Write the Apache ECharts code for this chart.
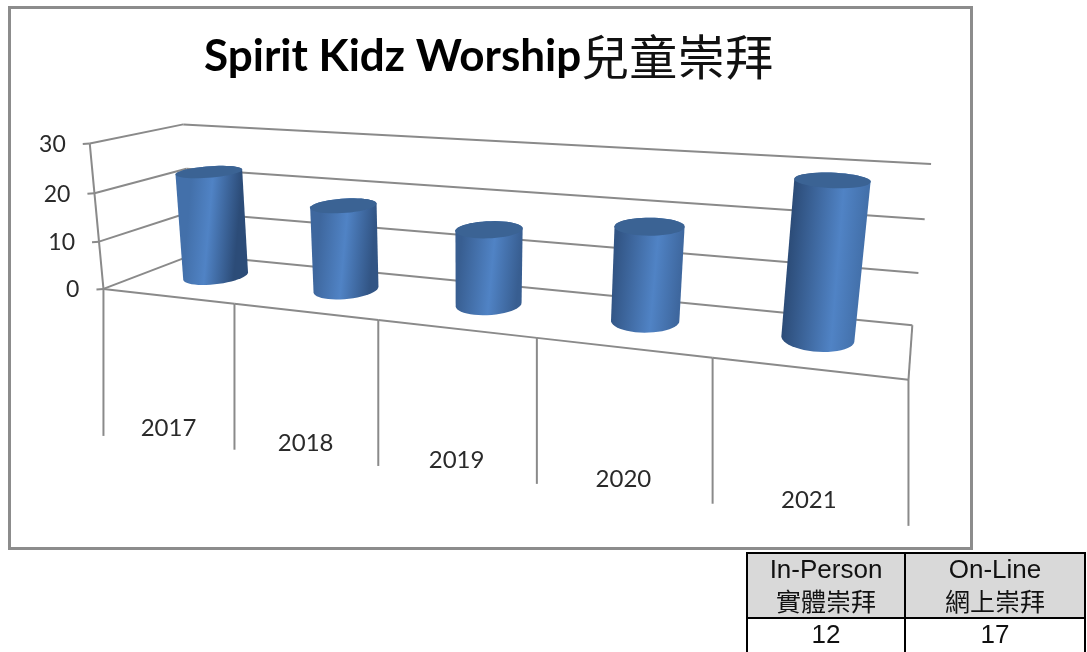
<!DOCTYPE html>
<html><head><meta charset="utf-8">
<style>html,body{margin:0;padding:0;background:#fff}#c{width:1087px;height:652px}</style>
<script src="https://cdn.jsdelivr.net/npm/echarts@6/dist/echarts.min.js"></script>
</head><body><div id="c"></div>
<script>
const titleLatin = 'Spirit Kidz Worship';
const titleCJK = '兒童崇拜';
const categories = ['2017','2018','2019','2020','2021'];
const values = [22.5, 17.5, 15, 18, 28.5];
const yTicks = [0, 10, 20, 30];
const tableHeadEn = ['In-Person','On-Line'];
const tableHeadZh = ['實體崇拜','網上崇拜'];
const tableValues = ['12','17'];

const LINE = '#8a8a8a';
const TXT = '#2a2a2a';
// Camera calibration: scene point [band, value, depth] -> picture position
const calib = [
 [0,0,0,105,288],[0,30,0,88,143],[0,0,1,187,255],[0,30,1,185,125],
 [0,0,0,105,288],[0,30,0,88,143],[0,30,1,185,125],
 [0,0,0,105,288],[0,30,0,88,143],[0,30,1,185,125],
 [5,0,1,913,324],[5,30,1,930,164],[5,0,0,908,380],[5,10,1,919,272],[5,20,1,925,219],
 [1,0,0,236,304],[2,0,0,378,322],[3,0,0,537,340],[4,0,0,712,358]
];
function solveCamera(pts){
  const n=11, A=Array.from({length:n},()=>new Array(n+1).fill(0));
  const add=(r,b)=>{for(let i=0;i<n;i++){for(let j=0;j<n;j++)A[i][j]+=r[i]*r[j];A[i][n]+=r[i]*b;}};
  pts.forEach(([X,Y,Z,x,y])=>{
    X/=5;Y/=30;x/=1000;y/=1000;
    add([X,Y,Z,1,0,0,0,0,-x*X,-x*Y,-x*Z],x);
    add([0,0,0,0,X,Y,Z,1,-y*X,-y*Y,-y*Z],y);
  });
  for(let i=0;i<n;i++){
    let m=i;for(let k=i+1;k<n;k++)if(Math.abs(A[k][i])>Math.abs(A[m][i]))m=k;
    [A[i],A[m]]=[A[m],A[i]];
    for(let k=0;k<n;k++){if(k===i)continue;const f=A[k][i]/A[i][i];for(let j=i;j<=n;j++)A[k][j]-=f*A[i][j];}
  }
  return A.map((r,i)=>r[n]/r[i]);
}
const cam=solveCamera(calib);
function project(b,v,z){
  const X=b/5,Y=v/30,Z=z,w=cam[8]*X+cam[9]*Y+cam[10]*Z+1;
  return [1000*(cam[0]*X+cam[1]*Y+cam[2]*Z+cam[3])/w,1000*(cam[4]*X+cam[5]*Y+cam[6]*Z+cam[7])/w];
}
function hull(points){
  const p=points.slice().sort((a,b)=>a[0]-b[0]||a[1]-b[1]);
  const cr=(o,a,b)=>(a[0]-o[0])*(b[1]-o[1])-(a[1]-o[1])*(b[0]-o[0]);
  const lo=[],up=[];
  for(const q of p){while(lo.length>1&&cr(lo[lo.length-2],lo[lo.length-1],q)<=0)lo.pop();lo.push(q);}
  for(const q of p.slice().reverse()){while(up.length>1&&cr(up[up.length-2],up[up.length-1],q)<=0)up.pop();up.push(q);}
  return lo.slice(0,-1).concat(up.slice(0,-1));
}
const lineEl=(a,b,w)=>({type:'line',shape:{x1:a[0],y1:a[1],x2:b[0],y2:b[1]},style:{stroke:LINE,lineWidth:w||2}});
const toScene=(api,params,i,v)=>{
  const s=params.coordSys,c=api.coord([i,v]);
  return [(c[0]-s.x)/s.width*categories.length,(s.y+s.height-c[1])/s.height*30];
};
const TEXT_FONT='Lato';

function renderWalls(params,api){
  const v=api.value(1);
  const val=toScene(api,params,0,v)[1];
  const a=project(0,val,0),b=project(0,val,1),c=project(5,val,1);
  const kids=[lineEl(a,b),lineEl(b,c),lineEl([a[0]-7,a[1]+0.5],a)];
  if(params.dataIndex>0){
    const low=toScene(api,params,0,yTicks[params.dataIndex-1])[1];
    kids.push(lineEl(project(0,low,0),a));
  }
  kids.push({type:'text',x:a[0]-24,y:a[1]+1,style:{text:String(v),fill:TXT,font:'23px '+TEXT_FONT,align:'right',verticalAlign:'middle'}});
  return {type:'group',children:kids};
}
function renderFloor(params,api){
  const i=api.value(0);
  const n=categories.length;
  const a=project(i,0,0),b=project(i+1,0,0),m=project(i+0.5,0,0);
  const kids=[lineEl(a,b),lineEl([b[0],b[1]],[b[0],b[1]+146])];
  if(i===0)kids.push(lineEl([a[0],a[1]],[a[0],a[1]+147]));
  if(i===n-1)kids.push(lineEl(project(n,0,1),b));
  kids.push({type:'text',x:m[0]+1,y:m[1]+132,style:{text:categories[i],fill:TXT,font:'24px '+TEXT_FONT,align:'center',verticalAlign:'middle'}});
  return {type:'group',children:kids};
}
const RX=0.2,RZ=0.25,ZC=0.55;
function renderBar(params,api){
  const i=api.value(0);
  const [bc,v]=toScene(api,params,i,api.value(1));
  const bot=[],top=[];
  for(let k=0;k<48;k++){
    const t=k/48*Math.PI*2;
    const bx=bc+RX*Math.cos(t),z=ZC+RZ*Math.sin(t);
    bot.push(project(bx,0,z));top.push(project(bx,v,z));
  }
  const L=project(bc-RX,v/2,ZC),R=project(bc+RX,v/2,ZC);
  const f=i/(categories.length-1);
  const h=0.42+0.25*f;
  const mix=(a,b,t)=>{const p=[0,1,2].map(j=>Math.round(a[j]+(b[j]-a[j])*t));return 'rgb('+p.join(',')+')';};
  const dark=[44,76,120],light=[80,131,197];
  const stops=[
    {offset:0,color:mix(light,dark,0.35+0.65*f)},
    {offset:h,color:mix(light,dark,0)},
    {offset:1,color:mix(light,dark,1-0.65*f)}
  ];
  const grad=new echarts.graphic.LinearGradient(L[0],L[1],R[0],R[1],stops,true);
  return {type:'group',children:[
    {type:'polygon',shape:{points:hull(bot.concat(top))},style:{fill:grad}},
    {type:'polygon',shape:{points:top},style:{fill:'#3b6394'}}
  ]};
}

const cell=(x,y,w,h,fill)=>({type:'rect',shape:{x,y,width:w,height:h},style:{fill:fill,stroke:'#000',lineWidth:2}});
const ctext=(x,y,t,font)=>({type:'text',x,y,style:{text:t,font,fill:'#111',align:'center',verticalAlign:'middle'}});
const colX=[747,905],colW=[158,180];
const graphics=[
  {type:'rect',shape:{x:9.5,y:7.5,width:962,height:541},style:{fill:'none',stroke:'#8c8c8c',lineWidth:3},z:0}
];
tableHeadEn.forEach((t,i)=>{
  const cx=colX[i]+colW[i]/2;
  graphics.push(cell(colX[i],553,colW[i],65,'#d9d9d9'));
  graphics.push(cell(colX[i],618,colW[i],40,'#fff'));
  graphics.push(ctext(cx,571,t,'26px "Liberation Sans"'));
  graphics.push(ctext(cx,601,tableHeadZh[i],'25px "Noto Sans CJK TC"'));
  graphics.push(ctext(cx,636,tableValues[i],'26px "Liberation Sans"'));
});

const chart=echarts.init(document.getElementById('c'),null,{renderer:'canvas'});
chart.setOption({
  animation:false,
  backgroundColor:'#fff',
  title:{left:204,top:33,padding:0,text:'{a|'+titleLatin+'}{b|'+titleCJK+'}',
    textStyle:{rich:{
      a:{fontFamily:'Lato',fontWeight:'bold',fontSize:44,color:'#000',verticalAlign:'middle'},
      b:{fontFamily:'"Noto Sans CJK TC"',fontWeight:'normal',fontSize:48,color:'#111',verticalAlign:'middle'}}}},
  grid:{left:105,right:179,top:143,bottom:364},
  xAxis:{type:'category',data:categories,show:false},
  yAxis:{type:'value',min:0,max:30,interval:10,show:false},
  graphic:graphics,
  series:[
    {type:'custom',name:'walls',silent:true,data:yTicks.map(v=>[0,v]),encode:{x:0,y:1},renderItem:renderWalls,z:2},
    {type:'custom',name:'floor',silent:true,data:categories.map((c,i)=>[i,0]),encode:{x:0,y:1},renderItem:renderFloor,z:3},
    {type:'custom',name:'Spirit Kidz Worship',data:values.map((v,i)=>[i,v]),encode:{x:0,y:1},renderItem:renderBar,z:4}
  ]
});
</script></body></html>
